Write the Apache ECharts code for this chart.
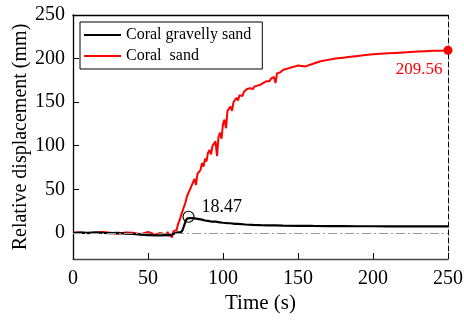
<!DOCTYPE html>
<html><head><meta charset="utf-8">
<script src="https://cdn.jsdelivr.net/npm/echarts@6/dist/echarts.min.js"></script>
<style>html,body{margin:0;padding:0;background:#fff}#c{width:464px;height:324px}</style>
</head><body><div id="c"></div>
<script>
// ---- data ----
const xTicks = [0, 50, 100, 150, 200, 250];
const yTicks = [0, 50, 100, 150, 200, 250];

const gravellyT = [0,5,10,15,20,25,30,35,40,45,50,55,60,62,64,66,67,68,69,70,71,72,73,74,75,76,77,78,79,80,81,82,83,84,85,86,88,90,92,95,98,100,103,105,108,110,115,120,125,130,135,140,150,160,170,180,190,200,210,220,230,240,250];
const gravellyV = [0,0.3,0,0.5,0,-0.3,0,-0.8,-1.2,-2,-2.5,-3,-3,-2.5,-2.8,-2,-1,-0.5,0,0.5,1.5,0.5,3,8,13,16.5,18.47,17,16.2,17,15.8,16.4,15.2,15.8,14.8,15.2,14.2,13.8,13,12.8,12,11.6,11.2,11,10.4,10.2,9.6,9.2,8.9,8.7,8.5,8.3,8.1,7.9,7.8,7.7,7.6,7.6,7.5,7.5,7.5,7.5,7.5];

const sandT = [0,5,10,15,20,25,30,35,40,45,50,55,58,60,61,62,63,64,65,66,67,68,69,70,71,72,73,74,75,76,77,78,79,80,81,82,83,84,85,86,87,88,89,90,91,92,93,94,95,96,97,98,99,100,101,102,103,104,105,106,107,108,109,110,111,112,113,114,115,116,117,118,119,120,121,122,123,124,125,126,127,128,129,130,131,132,133,134,135,136,137,138,139,140,141,142,143,144,145,146,147,148,149,150,155,160,165,170,175,180,185,190,195,200,205,210,215,220,225,230,235,240,245,250];
const sandV = [0,0.5,-0.5,0,1,0,-1,0.5,0,-1.5,1,-2,0,-1,0,-3,1,-2,0,-5,2,4,3,10,14,20,22,30,35,42,40,50,48,58,62,55,68,70,72,80,76,85,82,92,95,90,100,98,105,88,110,115,108,125,130,120,140,138,145,140,150,148,155,152,158,160,157,162,160,165,163,166,167,165,168,166,169,168,170,169,172,171,174,176,174,177,176,179,172,183,185,184,186,187,186,188,187,189,188,190,189,191,190,192,191,194,197,198.5,200,201,202,203,204,205,205.5,206,206.5,207,207.5,208,208.5,209,209,209.3,209.56];

const peakGravel = [77, 18.47];
const endSand = [250, 209.56];

const serif = 'Liberation Serif';

const chart = echarts.init(document.getElementById('c'), null, {renderer: 'canvas'});
chart.setOption({
  animation: false,
  backgroundColor: '#fff',
  grid: {left: 73, right: 16, top: 15, bottom: 65, containLabel: false, outerBoundsMode: 'none'},
  legend: {
    orient: 'vertical', left: 80, top: 22,
    padding: [5, 11, 5, 4], itemGap: 5,
    borderColor: '#000', borderWidth: 1,
    itemWidth: 37, itemHeight: 2, icon: 'rect',
    textStyle: {fontFamily: serif, fontSize: 16, color: '#000', lineHeight: 16},
    data: ['Coral gravelly sand', 'Coral  sand']
  },
  xAxis: [{
    type: 'value', min: 0, max: 250, interval: 50,
    name: 'Time (s)', nameLocation: 'middle', nameGap: 34, nameMoveOverlap: false,
    nameTextStyle: {fontFamily: serif, fontSize: 21, color: '#000'},
    axisLine: {show: true, onZero: false, lineStyle: {color: '#444', width: 1.3}},
    axisTick: {show: true, inside: true, length: 6, lineStyle: {color: '#000'}, customValues: xTicks},
    axisLabel: {fontFamily: serif, fontSize: 20, color: '#000', margin: 10, customValues: xTicks},
    splitLine: {show: false}
  }, {
    type: 'value', min: 0, max: 250, position: 'top',
    axisLine: {show: true, onZero: false, lineStyle: {color: '#000', width: 1.3}},
    axisTick: {show: false}, axisLabel: {show: false}, splitLine: {show: false}
  }],
  yAxis: [{
    type: 'value', min: -30, max: 250, position: 'left',
    name: 'Relative displacement (mm)', nameLocation: 'middle', nameGap: 42, nameMoveOverlap: false,
    nameTextStyle: {fontFamily: serif, fontSize: 20, color: '#000'},
    axisLine: {show: true, onZero: false, lineStyle: {color: '#000', width: 1.3}},
    axisTick: {show: true, inside: true, length: 6, lineStyle: {color: '#000'}, customValues: yTicks},
    axisLabel: {fontFamily: serif, fontSize: 20, color: '#000', margin: 8, customValues: yTicks},
    splitLine: {show: false}
  }, {
    type: 'value', min: -30, max: 250, position: 'right',
    axisLine: {show: true, onZero: false, lineStyle: {color: '#aaa', width: 1}},
    axisTick: {show: false}, axisLabel: {show: false}, splitLine: {show: false}
  }],
  series: [{
    name: 'Coral gravelly sand', type: 'line', color: '#000',
    data: gravellyT.map((t, i) => [t, gravellyV[i]]),
    showSymbol: false, symbol: 'none', lineStyle: {color: '#000', width: 2.2},
    z: 3,
    markLine: {
      silent: true, symbol: 'none', label: {show: false},
      lineStyle: {color: '#999', type: [9, 3, 2, 3], width: 1},
      data: [{yAxis: 0}]
    },
    markPoint: {
      symbol: 'circle', symbolSize: 11,
      itemStyle: {color: 'rgba(255,255,255,0)', borderColor: '#000', borderWidth: 1.2},
      label: {show: true, formatter: String(peakGravel[1]), position: 'right', distance: 7, offset: [0, -9],
        fontFamily: serif, fontSize: 18, color: '#000'},
      data: [{coord: peakGravel}]
    }
  }, {
    name: 'Coral  sand', type: 'line', color: '#ff0000',
    data: sandT.map((t, i) => [t, sandV[i]]),
    showSymbol: false, symbol: 'none', lineStyle: {color: '#ff0000', width: 2},
    z: 2,
    markLine: {
      silent: true, symbol: 'none', label: {show: false},
      lineStyle: {color: '#000', type: [5, 3], width: 1},
      data: [{xAxis: 250}]
    },
    markPoint: {
      symbol: 'circle', symbolSize: 9,
      itemStyle: {color: '#ff0000'},
      label: {show: true, formatter: String(endSand[1]), position: 'left', distance: 1, offset: [0, 19],
        fontFamily: serif, fontSize: 17, color: '#ff0000'},
      data: [{coord: endSand}]
    }
  }]
});
</script></body></html>
